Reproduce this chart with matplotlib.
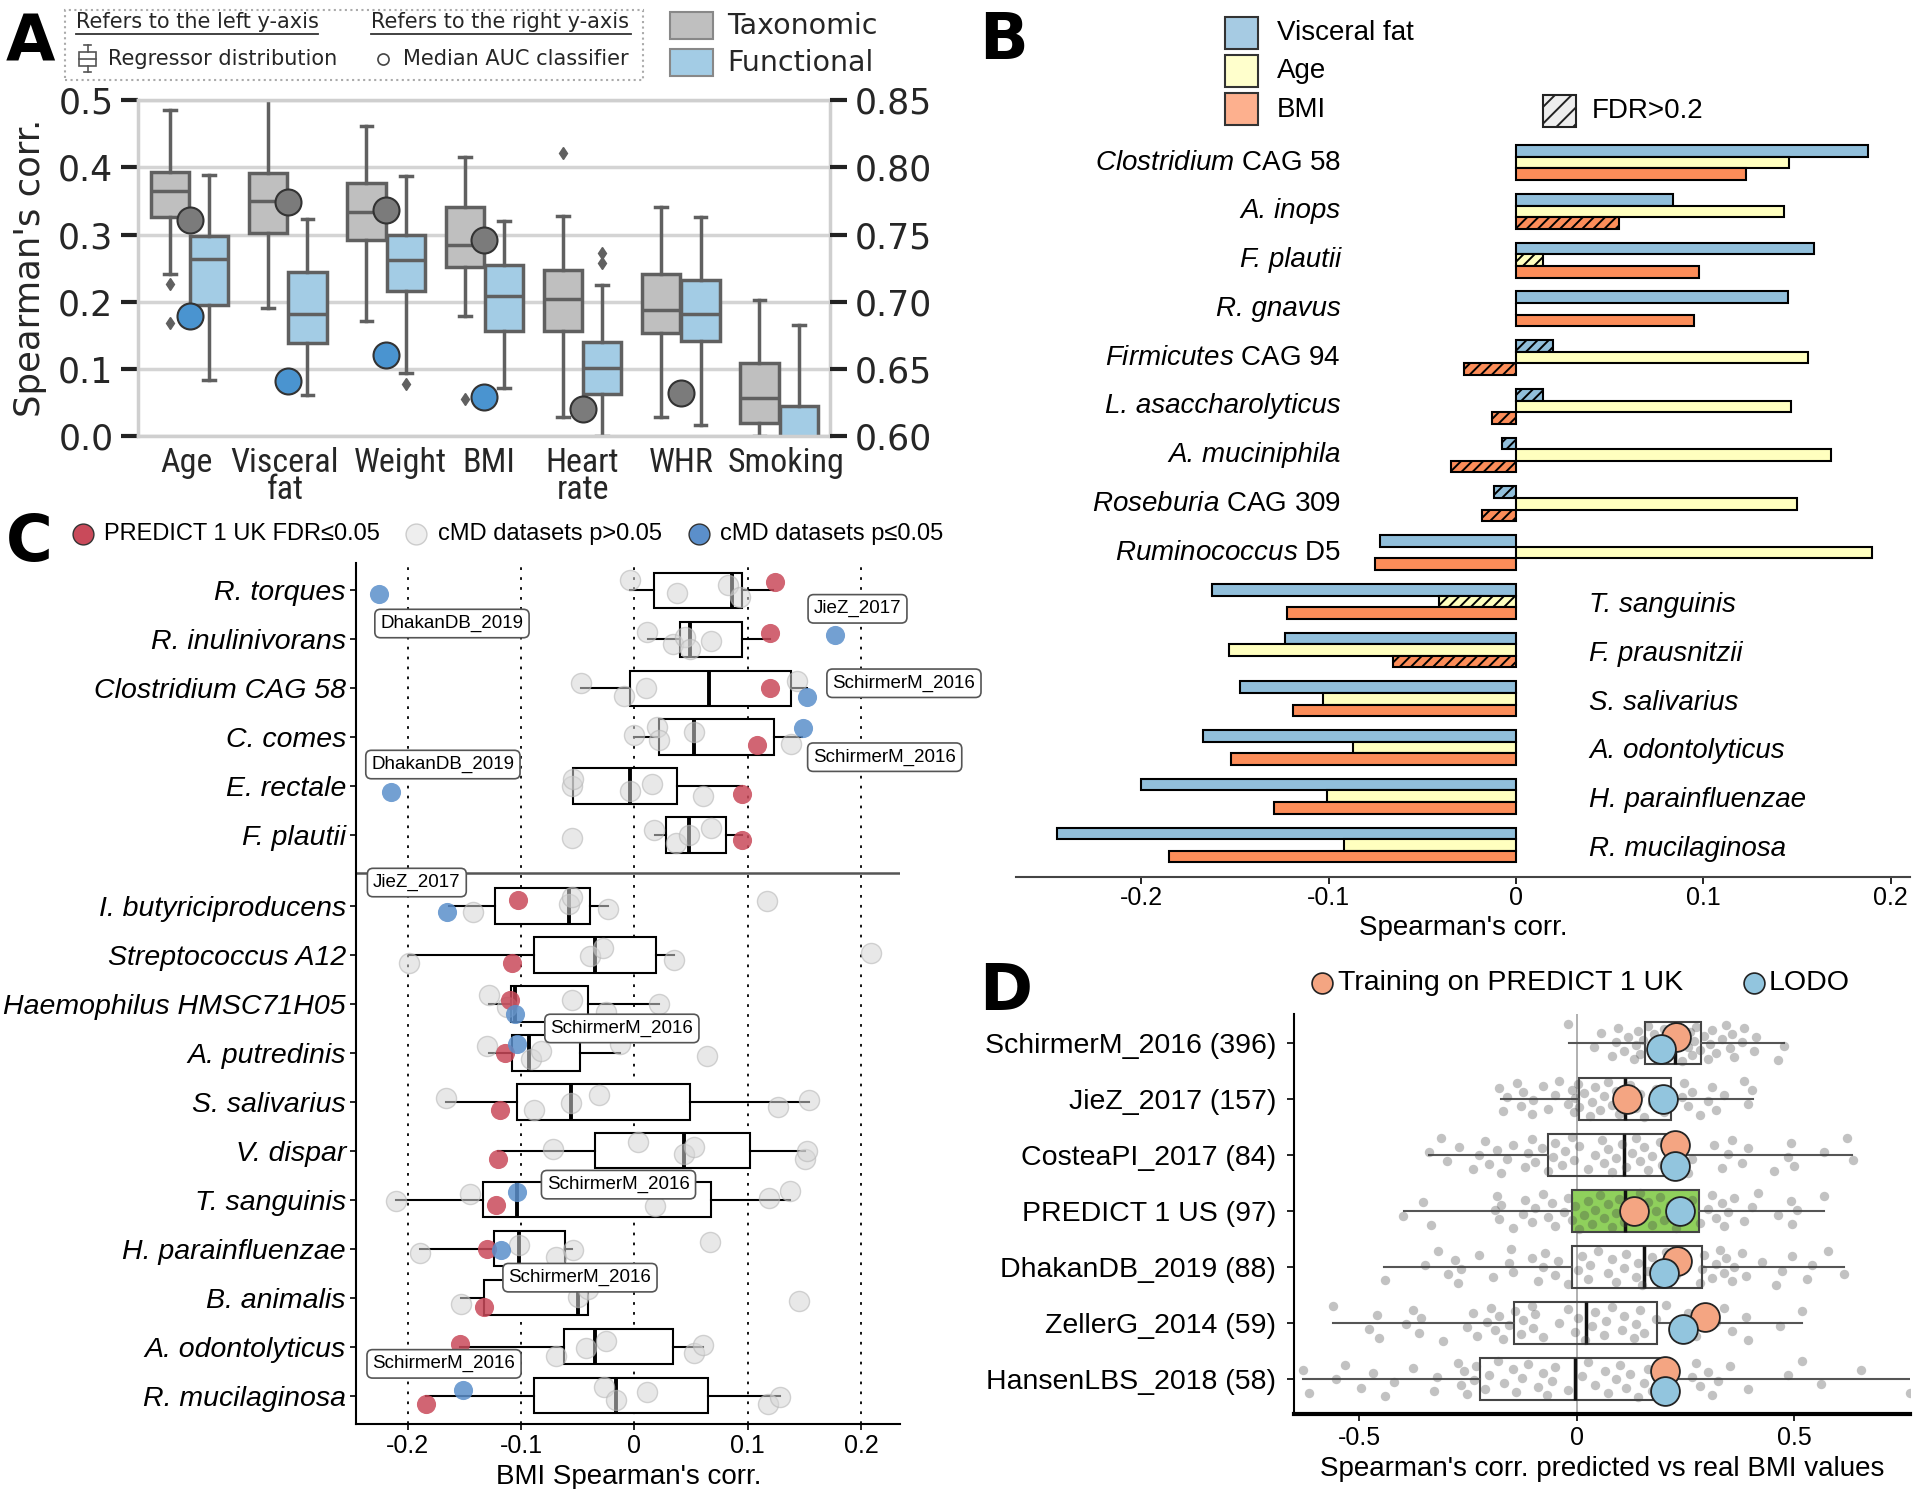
import numpy as np
import matplotlib
matplotlib.use("Agg")
import matplotlib.pyplot as plt
from matplotlib import font_manager
from matplotlib.patches import Rectangle
from matplotlib.lines import Line2D
from matplotlib.transforms import ScaledTranslation

plt.rcParams['font.family'] = ['Liberation Sans', 'DejaVu Sans']
plt.rcParams['mathtext.fontset'] = 'custom'
plt.rcParams['mathtext.it'] = 'Liberation Sans:italic'
plt.rcParams['mathtext.rm'] = 'Liberation Sans'
plt.rcParams['hatch.linewidth'] = 1.4

DJ = 'DejaVu Sans'


def pick_narrow():
    # a narrow face for the panel A category labels, if one is installed
    fl = font_manager.fontManager.ttflist
    names = {f.name for f in fl}
    for n in ['DejaVu Sans Condensed', 'Liberation Sans Narrow', 'Roboto Condensed',
              'Open Sans Condensed', 'Noto Sans Condensed']:
        if n in names:
            return dict(family=n)
    for f in fl:
        if f.name == 'DejaVu Sans' and 'condensed' in str(f.stretch):
            return dict(family=DJ, stretch='condensed')
    return None


NARROW = pick_narrow()

### Panel A data: (whislo, q1, med, q3, whishi)
a_traits = ["Age", "Visceral\nfat", "Weight", "BMI", "Heart\nrate", "WHR", "Smoking"]
a_tax_box = [
    (0.242, 0.326, 0.365, 0.394, 0.485),
    (0.190, 0.303, 0.350, 0.392, 0.520),
    (0.171, 0.292, 0.333, 0.377, 0.462),
    (0.178, 0.251, 0.285, 0.341, 0.415),
    (0.029, 0.157, 0.204, 0.247, 0.328),
    (0.029, 0.154, 0.187, 0.242, 0.341),
    (0.000, 0.019, 0.056, 0.108, 0.203),
]
a_tax_out = [[0.227, 0.168], [], [], [0.055], [0.421], [], []]
a_fun_box = [
    (0.084, 0.195, 0.263, 0.298, 0.389),
    (0.061, 0.139, 0.181, 0.244, 0.323),
    (0.094, 0.216, 0.262, 0.300, 0.387),
    (0.072, 0.156, 0.208, 0.255, 0.320),
    (0.000, 0.063, 0.101, 0.140, 0.225),
    (0.017, 0.141, 0.181, 0.233, 0.326),
    (-0.050, -0.010, -0.005, 0.045, 0.166),
]
a_fun_out = [[], [], [0.078], [], [0.272, 0.257], [], []]
a_tax_auc = [0.761, 0.774, 0.768, 0.746, 0.620, 0.632, np.nan]
a_fun_auc = [0.689, 0.641, 0.660, 0.629, np.nan, np.nan, np.nan]

### Panel B data
b_taxa = ["Clostridium CAG 58", "A. inops", "F. plautii", "R. gnavus", "Firmicutes CAG 94",
          "L. asaccharolyticus", "A. muciniphila", "Roseburia CAG 309", "Ruminococcus D5",
          "T. sanguinis", "F. prausnitzii", "S. salivarius", "A. odontolyticus",
          "H. parainfluenzae", "R. mucilaginosa"]
b_vf = [0.188, 0.084, 0.159, 0.145, 0.020, 0.0145, -0.0076, -0.0117, -0.0727,
        -0.162, -0.123, -0.147, -0.167, -0.200, -0.245]
b_age = [0.146, 0.143, 0.0145, 0.0, 0.156, 0.147, 0.168, 0.150, 0.190,
         -0.0408, -0.153, -0.103, -0.087, -0.101, -0.092]
b_bmi = [0.123, 0.055, 0.098, 0.095, -0.0275, -0.0126, -0.0344, -0.018, -0.0752,
         -0.122, -0.0654, -0.119, -0.152, -0.129, -0.185]
b_vf_ns = [0, 0, 0, 0, 1, 1, 1, 1, 0, 0, 0, 0, 0, 0, 0]
b_age_ns = [0, 0, 1, 0, 0, 0, 0, 0, 0, 1, 0, 0, 0, 0, 0]
b_bmi_ns = [0, 1, 0, 0, 1, 1, 1, 1, 0, 0, 1, 0, 0, 0, 0]

### Panel C data: (whislo, q1, med, q3, whishi)
c_taxa = ["R. torques", "R. inulinivorans", "Clostridium CAG 58", "C. comes", "E. rectale",
          "F. plautii", "I. butyriciproducens", "Streptococcus A12", "Haemophilus HMSC71H05",
          "A. putredinis", "S. salivarius", "V. dispar", "T. sanguinis", "H. parainfluenzae",
          "B. animalis", "A. odontolyticus", "R. mucilaginosa"]
c_box = [
    (-0.004, 0.017, 0.086, 0.095, 0.122),
    (0.012, 0.040, 0.049, 0.095, 0.120),
    (-0.047, -0.004, 0.066, 0.138, 0.152),
    (0.000, 0.022, 0.053, 0.123, 0.148),
    (-0.054, -0.054, -0.004, 0.038, 0.095),
    (0.018, 0.028, 0.048, 0.081, 0.095),
    (-0.164, -0.123, -0.058, -0.039, -0.023),
    (-0.199, -0.089, -0.035, 0.019, 0.035),
    (-0.128, -0.109, -0.105, -0.041, 0.022),
    (-0.128, -0.108, -0.093, -0.048, -0.013),
    (-0.166, -0.104, -0.056, 0.049, 0.154),
    (-0.120, -0.035, 0.044, 0.102, 0.151),
    (-0.210, -0.134, -0.104, 0.068, 0.137),
    (-0.189, -0.124, -0.102, -0.061, -0.055),
    (-0.153, -0.133, -0.050, -0.041, -0.041),
    (-0.154, -0.062, -0.035, 0.034, 0.061),
    (-0.184, -0.089, -0.016, 0.065, 0.129),
]
c_gray = [
    [-0.004, 0.038, 0.083, 0.093],
    [0.011, 0.034, 0.045, 0.049, 0.068],
    [-0.047, -0.009, 0.010, 0.144],
    [0.000, 0.020, 0.022, 0.053, 0.138],
    [-0.055, -0.054, -0.004, 0.016, 0.061],
    [-0.055, 0.017, 0.037, 0.048, 0.068],
    [-0.142, -0.058, -0.055, -0.023, 0.117],
    [-0.199, -0.039, -0.028, 0.035, 0.209],
    [-0.128, -0.112, -0.055, -0.025, 0.022],
    [-0.130, -0.091, -0.082, -0.013, 0.064],
    [-0.166, -0.089, -0.056, -0.031, 0.127, 0.154],
    [-0.072, 0.003, 0.044, 0.053, 0.151, 0.152],
    [-0.210, -0.145, 0.018, 0.119, 0.137],
    [-0.189, -0.102, -0.069, -0.054, 0.067],
    [-0.153, -0.050, -0.041, 0.145],
    [-0.069, -0.043, -0.025, 0.053, 0.061],
    [-0.027, -0.016, 0.011, 0.118, 0.129],
]
c_red = [0.124, 0.120, 0.120, 0.108, 0.095, 0.095, -0.103, -0.108, -0.110, -0.114,
         -0.119, -0.120, -0.122, -0.130, -0.133, -0.154, -0.184]
c_blue = [-0.225, 0.177, 0.152, 0.149, -0.215, np.nan, -0.165, np.nan, -0.105, -0.104,
          np.nan, np.nan, -0.104, -0.118, np.nan, np.nan, -0.151]
c_blue_ds = ["DhakanDB_2019", "JieZ_2017", "SchirmerM_2016", "SchirmerM_2016", "DhakanDB_2019",
             "", "JieZ_2017", "", "SchirmerM_2016", "", "", "", "SchirmerM_2016",
             "SchirmerM_2016", "", "", "SchirmerM_2016"]

### Panel D data: (whislo, q1, med, q3, whishi)
d_sets = ["SchirmerM_2016 (396)", "JieZ_2017 (157)", "CosteaPI_2017 (84)", "PREDICT 1 US (97)",
          "DhakanDB_2019 (88)", "ZellerG_2014 (59)", "HansenLBS_2018 (58)"]
d_box = [
    (-0.019, 0.157, 0.225, 0.285, 0.475),
    (-0.173, 0.004, 0.110, 0.217, 0.405),
    (-0.339, -0.065, 0.108, 0.230, 0.632),
    (-0.397, -0.010, 0.111, 0.281, 0.569),
    (-0.443, -0.012, 0.154, 0.288, 0.615),
    (-0.559, -0.145, 0.022, 0.184, 0.517),
    (-0.630, -0.223, -0.005, 0.202, 0.765),
]
d_train = [0.228, 0.115, 0.226, 0.132, 0.231, 0.294, 0.202]
d_lodo = [0.193, 0.198, 0.226, 0.237, 0.200, 0.244, 0.202]
d_pts = [
    [-0.021, 0.039, 0.055, 0.080, 0.089, 0.094, 0.108, 0.117, 0.131, 0.136, 0.140, 0.145,
     0.152, 0.163, 0.173, 0.177, 0.182, 0.191, 0.200, 0.209, 0.228, 0.242, 0.256, 0.260,
     0.265, 0.269, 0.274, 0.283, 0.292, 0.302, 0.306, 0.311, 0.320, 0.334, 0.343, 0.352,
     0.357, 0.362, 0.380, 0.385, 0.408, 0.412, 0.463, 0.477],
    [-0.178, -0.169, -0.160, -0.137, -0.127, -0.123, -0.104, -0.100, -0.077, -0.067, -0.049,
     -0.040, -0.021, -0.012, -0.007, -0.003, 0.002, 0.006, 0.016, 0.030, 0.034, 0.043, 0.053,
     0.062, 0.071, 0.080, 0.089, 0.098, 0.108, 0.122, 0.136, 0.145, 0.154, 0.173, 0.182,
     0.200, 0.242, 0.246, 0.256, 0.265, 0.283, 0.302, 0.311, 0.320, 0.339, 0.385, 0.394, 0.403],
    [-0.339, -0.312, -0.298, -0.270, -0.238, -0.224, -0.210, -0.201, -0.183, -0.173, -0.160,
     -0.146, -0.118, -0.113, -0.104, -0.095, -0.081, -0.067, -0.054, -0.049, -0.035, -0.026,
     -0.012, -0.007, 0.006, 0.025, 0.043, 0.057, 0.062, 0.071, 0.080, 0.089, 0.103, 0.113,
     0.126, 0.136, 0.145, 0.154, 0.163, 0.173, 0.191, 0.195, 0.214, 0.256, 0.265, 0.316,
     0.334, 0.348, 0.357, 0.380, 0.394, 0.454, 0.486, 0.491, 0.500, 0.569, 0.620, 0.634],
    [-0.399, -0.353, -0.335, -0.187, -0.183, -0.178, -0.173, -0.146, -0.123, -0.118, -0.104,
     -0.095, -0.077, -0.067, -0.058, -0.049, -0.030, -0.021, -0.012, -0.003, 0.006, 0.016,
     0.025, 0.034, 0.043, 0.053, 0.062, 0.071, 0.080, 0.089, 0.098, 0.108, 0.126, 0.145,
     0.154, 0.163, 0.173, 0.182, 0.191, 0.200, 0.214, 0.228, 0.246, 0.265, 0.283, 0.302,
     0.311, 0.320, 0.334, 0.339, 0.348, 0.362, 0.385, 0.403, 0.417, 0.463, 0.491, 0.495,
     0.505, 0.569],
    [-0.441, -0.349, -0.318, -0.296, -0.280, -0.272, -0.266, -0.224, -0.192, -0.155, -0.152,
     -0.146, -0.104, -0.090, -0.077, -0.072, -0.049, -0.044, -0.021, 0.002, 0.011, 0.025,
     0.030, 0.048, 0.071, 0.080, 0.089, 0.108, 0.113, 0.136, 0.140, 0.149, 0.163, 0.173,
     0.182, 0.191, 0.205, 0.228, 0.251, 0.283, 0.288, 0.292, 0.311, 0.320, 0.329, 0.339,
     0.343, 0.357, 0.362, 0.380, 0.389, 0.426, 0.458, 0.472, 0.495, 0.528, 0.541, 0.578, 0.615],
    [-0.561, -0.478, -0.459, -0.455, -0.392, -0.376, -0.363, -0.358, -0.307, -0.252, -0.238,
     -0.229, -0.206, -0.196, -0.187, -0.178, -0.169, -0.155, -0.141, -0.127, -0.123, -0.104,
     -0.100, -0.095, -0.077, -0.040, -0.021, -0.003, 0.002, 0.020, 0.034, 0.043, 0.062,
     0.066, 0.080, 0.103, 0.108, 0.131, 0.136, 0.145, 0.154, 0.182, 0.205, 0.232, 0.256,
     0.274, 0.320, 0.339, 0.357, 0.389, 0.394, 0.468, 0.518],
    [-0.630, -0.616, -0.552, -0.533, -0.496, -0.469, -0.441, -0.420, -0.376, -0.327, -0.321,
     -0.272, -0.266, -0.258, -0.252, -0.235, -0.232, -0.210, -0.201, -0.180, -0.167, -0.146,
     -0.139, -0.125, -0.112, -0.090, -0.077, -0.069, -0.058, -0.049, -0.021, 0.011, 0.025,
     0.043, 0.065, 0.071, 0.091, 0.099, 0.113, 0.122, 0.140, 0.154, 0.163, 0.173, 0.265,
     0.274, 0.283, 0.302, 0.311, 0.325, 0.352, 0.394, 0.486, 0.518, 0.562, 0.652, 0.765],
]


def mk_stats(rows, fliers=None):
    return [dict(whislo=r[0], q1=r[1], med=r[2], q3=r[3], whishi=r[4],
                 fliers=(fliers[i] if fliers else [])) for i, r in enumerate(rows)]


def jitter(n, amp, seed=0.31):
    # evenly spread, deterministic vertical offsets for strip points
    return ((np.arange(n) * 0.6180339887 + seed) % 1.0 - 0.5) * 2 * amp


def taxon_label(name):
    first, rest = name.split(' ', 1)
    if first.endswith('.'):
        return name, 'italic'
    return r'$\it{' + first + '}$ ' + rest, 'normal'


fig = plt.figure(figsize=(19.2, 14.89), dpi=100)

### ---------------- Panel A ----------------
axA = fig.add_axes([0.0721, 0.7072, 0.3603, 0.2254])
xa = np.arange(len(a_traits))
edge = '#606060'
common = dict(patch_artist=True, widths=0.39, capwidths=0.12,
              whiskerprops=dict(color=edge, lw=2.5), capprops=dict(color=edge, lw=2.5),
              medianprops=dict(color=edge, lw=2.5),
              flierprops=dict(marker='d', markerfacecolor=edge, markeredgecolor=edge, markersize=6))
axA.bxp(mk_stats(a_tax_box, a_tax_out), positions=xa - 0.2,
        boxprops=dict(facecolor='#bfbfbf', edgecolor=edge, lw=2.5), **common)
axA.bxp(mk_stats(a_fun_box, a_fun_out), positions=xa + 0.2,
        boxprops=dict(facecolor='#a3cce5', edgecolor=edge, lw=2.5), **common)
axA.set_xlim(-0.52, 6.52)
axA.set_ylim(0, 0.5)
axA.set_yticks(np.arange(0, 0.51, 0.1), [f"{v:.1f}" for v in np.arange(0, 0.51, 0.1)],
               fontsize=25, family=DJ, color='#262626')
# category labels drawn as texts so that a few can sit slightly off-centre, as in the original
axA.set_xticks(xa, [""] * len(xa))
lab_kw = dict(fontsize=24.5, **NARROW) if NARROW is not None else dict(fontsize=20, family=DJ)
lab_tr = axA.get_xaxis_transform() + ScaledTranslation(0, -8 / 72, fig.dpi_scale_trans)
for xv, dx, lab in zip(xa, [-0.03, -0.03, 0.14, 0.05, 0.0, 0.0, 0.07], a_traits):
    axA.text(xv + dx, 0, lab, transform=lab_tr, ha='center', va='top', color='#262626',
             linespacing=0.8, **lab_kw)
axA.tick_params(axis='x', length=0, pad=8)
axA.tick_params(axis='y', length=12, width=3, color='#222', pad=6)
axA.grid(axis='y', color='#d4d4d4', lw=2.5)
axA.set_axisbelow(True)
for s in axA.spines.values():
    s.set_color('#cfcfcf')
    s.set_linewidth(2.5)
axA.set_ylabel("Spearman's corr.", fontsize=25.5, family=DJ, color='#262626', labelpad=8)

axA2 = axA.twinx()
axA2.set_ylim(0.6, 0.85)
rt = np.arange(0.6, 0.851, 0.05)
axA2.set_yticks(rt, [f"{v:.2f}" for v in rt], fontsize=25, family=DJ, color='#262626')
axA2.tick_params(axis='y', length=12, width=3, color='#222', pad=6)
for s in axA2.spines.values():
    s.set_visible(False)
axA2.scatter(xa, a_tax_auc, s=350, c='#7b7b7b', edgecolors='#333333', linewidths=1.5, zorder=5)
axA2.scatter(xa, a_fun_auc, s=350, c='#4a94d0', edgecolors='#333333', linewidths=1.5, zorder=5)

# legend A
fig.add_artist(Rectangle((0.0338, 0.9465), 0.301, 0.0469, transform=fig.transFigure,
                         fill=False, ls=':', ec='#aaaaaa', lw=1.5))
fig.text(0.0395, 0.9852, "Refers to the left y-axis", fontsize=15, family=DJ, va='center', color='#262626')
fig.text(0.1932, 0.9852, "Refers to the right y-axis", fontsize=15, family=DJ, va='center', color='#262626')
fig.add_artist(Line2D([0.0395, 0.1658], [0.9773, 0.9773], transform=fig.transFigure, color='#333', lw=1.3))
fig.add_artist(Line2D([0.1932, 0.3284], [0.9773, 0.9773], transform=fig.transFigure, color='#333', lw=1.3))
bx, by = 0.0456, 0.9605
fig.add_artist(Rectangle((bx - 0.0045, by - 0.0045), 0.009, 0.009, transform=fig.transFigure,
                         fill=False, ec='#555', lw=1.2))
fig.add_artist(Line2D([bx - 0.0045, bx + 0.0045], [by, by], transform=fig.transFigure, color='#555', lw=1.2))
fig.add_artist(Line2D([bx, bx], [by + 0.0045, by + 0.009], transform=fig.transFigure, color='#555', lw=1.2))
fig.add_artist(Line2D([bx, bx], [by - 0.0045, by - 0.009], transform=fig.transFigure, color='#555', lw=1.2))
fig.add_artist(Line2D([bx - 0.002, bx + 0.002], [by + 0.009, by + 0.009], transform=fig.transFigure, color='#555', lw=1.2))
fig.add_artist(Line2D([bx - 0.002, bx + 0.002], [by - 0.009, by - 0.009], transform=fig.transFigure, color='#555', lw=1.2))
fig.text(0.0561, by, "Regressor distribution", fontsize=15, family=DJ, va='center', color='#262626')
fig.add_artist(Line2D([0.1996], [by], transform=fig.transFigure, marker='o', ms=8,
                      mfc='white', mec='#444', mew=1.2))
fig.text(0.2098, by, "Median AUC classifier", fontsize=15, family=DJ, va='center', color='#262626')
fig.add_artist(Rectangle((0.3489, 0.9737), 0.0223, 0.0181, transform=fig.transFigure,
                         fc='#bfbfbf', ec='#888888', lw=1.5))
fig.add_artist(Rectangle((0.3489, 0.9490), 0.0223, 0.0181, transform=fig.transFigure,
                         fc='#a3cce5', ec='#888888', lw=1.5))
fig.text(0.3788, 0.9827, "Taxonomic", fontsize=20.5, family=DJ, va='center', color='#262626')
fig.text(0.3788, 0.9580, "Functional", fontsize=20.5, family=DJ, va='center', color='#262626')

### ---------------- Panel B ----------------
axB = fig.add_axes([0.5293, 0.4112, 0.4656, 0.5025])
pb = np.arange(len(b_taxa))
for vals, ns, col, off in [(b_vf, b_vf_ns, '#91bfdb', -0.238), (b_age, b_age_ns, '#ffffbf', 0.0),
                           (b_bmi, b_bmi_ns, '#fc8d59', 0.238)]:
    bars = axB.barh(pb + off, vals, height=0.238, color=col, edgecolor='black', linewidth=1.5)
    for b, n in zip(bars, ns):
        if n:
            b.set_hatch('///')
for i, name in enumerate(b_taxa):
    txt, style = taxon_label(name)
    if i < 9:
        axB.text(-0.0935, i, txt, ha='right', va='center', fontsize=20, style=style)
    else:
        axB.text(0.039, i + 0.08, txt, ha='left', va='center', fontsize=20, style=style)
axB.set_xlim(-0.2667, 0.2105)
axB.set_ylim(14.65, -0.70)
axB.set_yticks([])
axB.set_xticks([-0.2, -0.1, 0, 0.1, 0.2], ["-0.2", "-0.1", "0", "0.1", "0.2"], fontsize=18)
axB.tick_params(axis='x', length=5, width=1.2, pad=2)
for k in ['left', 'right', 'top']:
    axB.spines[k].set_visible(False)
axB.spines['bottom'].set_color('#444')
axB.spines['bottom'].set_linewidth(1.5)
axB.set_xlabel("Spearman's corr.", fontsize=20, labelpad=3)

for yb, yt, col, lab in [(0.9671, 0.9778, '#a6cbe3', "Visceral fat"),
                         (0.9416, 0.9523, '#ffffcc', "Age"),
                         (0.9161, 0.9260, '#fdb08e', "BMI")]:
    fig.add_artist(Rectangle((0.6378, yb), 0.0172, 0.0214, transform=fig.transFigure,
                             fc=col, ec='#333', lw=1.5))
    fig.text(0.6652, yt, lab, fontsize=20, va='center')
fig.add_artist(Rectangle((0.8036, 0.9145), 0.0172, 0.0214, transform=fig.transFigure,
                         fc='#eeeeee', ec='#222', lw=1.5, hatch='//'))
fig.text(0.8291, 0.9252, "FDR>0.2", fontsize=20, va='center')

### ---------------- Panel C ----------------
axC = fig.add_axes([0.1856, 0.0436, 0.2832, 0.5781])
c_ypos = np.array([0, 1, 2, 3, 4, 5] + [6.45 + k for k in range(11)])
c_red_dy = [-0.16, -0.12, 0.0, 0.16, 0.17, 0.10, -0.12, 0.17, -0.08, 0.0, 0.16, 0.16, 0.10,
            0.0, 0.18, -0.06, 0.17]
c_blue_dy = [0.07, -0.08, 0.19, -0.18, 0.12, 0, 0.12, 0, 0.20, -0.19, 0, 0, -0.15, 0.03, 0, 0, -0.11]
c_label_xy = {0: (-0.161, 0.68), 1: (0.197, 0.38), 2: (0.238, 1.90), 3: (0.221, 3.41),
              4: (-0.169, 3.56), 6: (-0.192, 5.97), 8: (-0.011, 8.95), 12: (-0.014, 12.14),
              13: (-0.048, 14.04), 16: (-0.168, 15.80)}
for xv in [-0.2, -0.1, 0, 0.1, 0.2]:
    axC.axvline(xv, color='black', ls=(0, (1.5, 4)), lw=1.3, zorder=0)
axC.axhline(5.77, color='#555555', lw=1.8, zorder=1)
axC.bxp(mk_stats(c_box), positions=c_ypos, widths=0.72, vert=False, patch_artist=True,
        showcaps=False, showfliers=False,
        boxprops=dict(facecolor='white', edgecolor='black', lw=1.5),
        whiskerprops=dict(color='black', lw=1.5), medianprops=dict(color='black', lw=2.8))
for i, vals in enumerate(c_gray):
    dy = jitter(len(vals), 0.2, seed=0.13 * i)
    axC.scatter(vals, c_ypos[i] + dy, s=210, facecolor=(0.84, 0.84, 0.84, 0.55),
                edgecolor=(0.72, 0.72, 0.72, 0.6), lw=1.0, zorder=3)
axC.scatter(c_red, c_ypos + np.array(c_red_dy), s=190, color='#c94a5a', alpha=0.85, lw=0, zorder=4)
axC.scatter(c_blue, c_ypos + np.array(c_blue_dy), s=190, color='#5b8fcb', alpha=0.85, lw=0, zorder=4)
for i, (lx, ly) in c_label_xy.items():
    axC.text(lx, ly, c_blue_ds[i], ha='center', va='center', fontsize=13.5, zorder=6, clip_on=False,
             bbox=dict(boxstyle='round,pad=0.3', fc='white', ec='#555555', lw=1.2))
axC.set_xlim(-0.2454, 0.2346)
axC.set_ylim(17.03, -0.55)
axC.set_yticks(c_ypos, c_taxa, fontsize=20.5, style='italic')
axC.set_xticks([-0.2, -0.1, 0, 0.1, 0.2], ["-0.2", "-0.1", "0", "0.1", "0.2"], fontsize=18)
axC.tick_params(axis='both', length=4, width=1.2)
for k in ['right', 'top']:
    axC.spines[k].set_visible(False)
for k in ['left', 'bottom']:
    axC.spines[k].set_linewidth(1.5)
axC.set_xlabel("BMI Spearman's corr.", fontsize=20, labelpad=4)

ly = 0.6414
for mx, tx, fc, ec, lab in [(0.0434, 0.0542, '#c94a5a', '#333', "PREDICT 1 UK FDR≤0.05"),
                            (0.2168, 0.2283, '#eeeeee', '#cccccc', "cMD datasets p>0.05"),
                            (0.3642, 0.3750, '#5b8fcb', '#333', "cMD datasets p≤0.05")]:
    fig.add_artist(Line2D([mx], [ly], transform=fig.transFigure, marker='o', ms=15,
                          mfc=fc, mec=ec, mew=1.0))
    fig.text(tx, ly, lab, fontsize=17, va='center')

### ---------------- Panel D ----------------
axD = fig.add_axes([0.6741, 0.0502, 0.3208, 0.2689])
pd_ = np.arange(len(d_sets))
d_train_dy = [-0.10, 0.0, -0.18, 0.0, -0.10, -0.10, -0.14]
d_lodo_dy = [0.11, 0.0, 0.19, 0.0, 0.11, 0.11, 0.21]
axD.axvline(0, color='#aaaaaa', lw=1.3, zorder=0)
res = axD.bxp(mk_stats(d_box), positions=pd_, widths=0.76, vert=False, patch_artist=True,
              showcaps=False, showfliers=False,
              boxprops=dict(facecolor='none', edgecolor='#444444', lw=1.5),
              whiskerprops=dict(color='#555555', lw=1.5), medianprops=dict(color='#111111', lw=2.5))
res['boxes'][3].set_facecolor('#8fd05c')
for i, vals in enumerate(d_pts):
    dy = jitter(len(vals), 0.33, seed=0.21 * i)
    axD.scatter(vals, pd_[i] + dy, s=46, color='#444444', alpha=0.32, lw=0, zorder=3)
axD.scatter(d_train, pd_ + np.array(d_train_dy), s=430, fc='#f4a582', ec='#222222', lw=1.3, zorder=5)
axD.scatter(d_lodo, pd_ + np.array(d_lodo_dy), s=430, fc='#92c5de', ec='#222222', lw=1.3, zorder=5)
axD.set_xlim(-0.649, 0.766)
axD.set_ylim(6.63, -0.52)
axD.set_yticks(pd_, d_sets, fontsize=20.5)
axD.set_xticks([-0.5, 0, 0.5], ["-0.5", "0", "0.5"], fontsize=18)
axD.tick_params(axis='both', length=5, width=1.2)
axD.tick_params(axis='y', pad=8)
for k in ['right', 'top']:
    axD.spines[k].set_visible(False)
axD.spines['left'].set_linewidth(1.5)
axD.spines['bottom'].set_linewidth(3)
axD.set_xlabel("Spearman's corr. predicted vs real BMI values", fontsize=20, labelpad=4)

for mx, tx, fc, lab in [(0.6888, 0.6971, '#f4a582', "Training on PREDICT 1 UK"),
                        (0.9133, 0.9209, '#92c5de', "LODO")]:
    fig.add_artist(Line2D([mx], [0.3396], transform=fig.transFigure, marker='o', ms=15,
                          mfc=fc, mec='#222', mew=1.2))
    fig.text(tx, 0.3396, lab, fontsize=20.5, va='center')

### panel letters
for lx, lyy, letter in [(0.003, 0.959, 'A'), (0.510, 0.9605, 'B'), (0.003, 0.6234, 'C'), (0.510, 0.3215, 'D')]:
    fig.text(lx, lyy, letter, fontsize=46, fontweight='bold', family=DJ, va='baseline')

fig.savefig("out.png", dpi=100)
